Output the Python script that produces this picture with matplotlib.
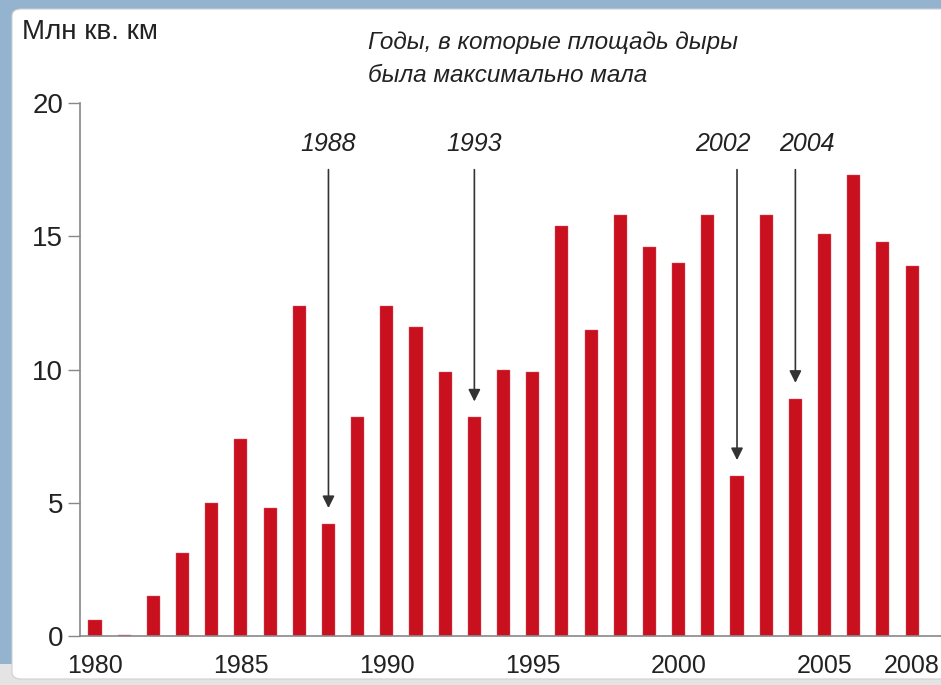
import matplotlib
matplotlib.use("Agg")
import matplotlib.pyplot as plt
from matplotlib.patches import FancyBboxPatch, Rectangle

# ozone hole area, million sq km
years = list(range(1980, 2009))
area = [0.6, 0.05, 1.5, 3.1, 5.0, 7.4, 4.8, 12.4, 4.2, 8.2,
        12.4, 11.6, 9.9, 8.2, 10.0, 9.9, 15.4, 11.5, 15.8, 14.6,
        14.0, 15.8, 6.0, 15.8, 8.9, 15.1, 17.3, 14.8, 13.9]
xtick_years = [1980, 1985, 1990, 1995, 2000, 2005, 2008]
yticks = [0, 5, 10, 15, 20]
min_years = [1988, 1993, 2002, 2004]

plt.rcParams['font.family'] = ['Liberation Sans', 'DejaVu Sans']

fig = plt.figure(figsize=(9.41, 6.85), dpi=100)
fig.patch.set_facecolor('#93b3cf')

# grey strip along the bottom, then the white panel
bottom = Rectangle((0, 0), 1, 0.03, transform=fig.transFigure, facecolor='#e4e4e4',
                   edgecolor='none', zorder=-2)
fig.patches.append(bottom)
panel = FancyBboxPatch((12 / 941, 6 / 685), 1.0, 1 - 15 / 685, boxstyle="round,pad=0,rounding_size=0.01",
                       transform=fig.transFigure, facecolor='white', edgecolor='#cfcfcf', lw=0.8,
                       zorder=-1)
fig.patches.append(panel)

ax = fig.add_axes([80 / 941, 49 / 685, 861 / 941, 533 / 685])
ax.patch.set_alpha(0)

ax.bar(years, area, width=0.45, color='#c8101e', edgecolor='#e06070', linewidth=0.3)

ax.set_xlim(1979.486, 2008.99)
ax.set_ylim(0, 20)
ax.set_yticks(yticks)
ax.set_xticks(xtick_years)
ax.tick_params(axis='y', direction='out', length=9, width=1, color='#888888',
               labelsize=20, labelcolor='#222222', pad=3)
ax.tick_params(axis='x', length=0, labelsize=18, labelcolor='#222222', pad=13)

for s in ['top', 'right']:
    ax.spines[s].set_visible(False)
for s in ['left', 'bottom']:
    ax.spines[s].set_color('#888888')
    ax.spines[s].set_linewidth(1.2)

# arrows to the minimum years (2002/2004 labels pushed apart a bit)
shift = {2002: -0.5, 2004: 0.4}
for yr in min_years:
    h = area[years.index(yr)]
    ax.annotate('', xy=(yr, h + 0.6), xytext=(yr, 17.5),
                arrowprops=dict(arrowstyle='-|>', color='#333333', lw=1.2,
                                mutation_scale=18, shrinkA=0, shrinkB=0))
    ax.text(yr + shift.get(yr, 0), 18.45, str(yr), ha='center', va='center', fontsize=18,
            style='italic', color='#222222')

fig.text(22 / 941, 1 - 32 / 685, 'Млн кв. км', fontsize=20, color='#222222', va='center')
fig.text(368 / 941, 1 - 42 / 685, 'Годы, в которые площадь дыры', fontsize=17.5,
         style='italic', color='#222222', va='center')
fig.text(368 / 941, 1 - 75 / 685, 'была максимально мала', fontsize=17.5,
         style='italic', color='#222222', va='center')

fig.savefig('out.png', dpi=100, facecolor=fig.get_facecolor())
